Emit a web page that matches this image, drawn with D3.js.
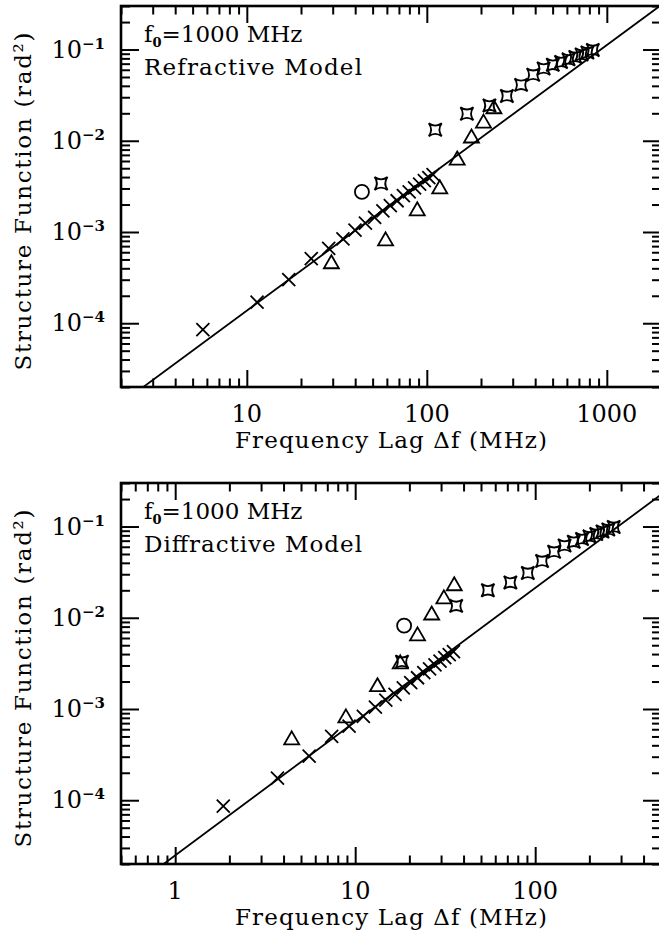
<!DOCTYPE html>
<html>
<head>
<meta charset="utf-8">
<script src="https://cdn.jsdelivr.net/npm/d3@7"></script>
<style>
  body { margin: 0; background: #fff; }
  text { font-family: "DejaVu Serif", "Liberation Serif", serif; fill: #000; }
</style>
</head>
<body>
<div id="chart"></div>
<script>
// ---- data (frequency lag in MHz, structure function in rad^2) ----
const topCrossF = [5.7, 11.4, 17.1, 22.8, 28.5, 34.2, 39.9, 45.6, 51.3, 57.0, 62.7, 68.4, 74.1, 79.8, 85.5, 91.2, 96.9, 102.6, 108.3];
const topCrossD = [8.5e-5, 1.7e-4, 3.0e-4, 5.1e-4, 6.6e-4, 8.4e-4, 1.05e-3, 1.25e-3, 1.45e-3, 1.7e-3, 1.95e-3, 2.2e-3, 2.5e-3, 2.75e-3, 3.05e-3, 3.35e-3, 3.65e-3, 3.95e-3, 4.25e-3];
const topTriF = [29.5, 59, 88.5, 118, 147.5, 177, 206.5, 236];
const topTriD = [4.6e-4, 8.2e-4, 1.75e-3, 3.05e-3, 6.3e-3, 1.1e-2, 1.6e-2, 2.3e-2];
const topStarF = [55.7, 111.4, 167, 222.8, 278.5, 334, 390, 445.6, 501, 557, 613, 668, 724, 780, 836];
const topStarD = [3.4e-3, 1.32e-2, 1.98e-2, 2.43e-2, 3.1e-2, 4.1e-2, 5.3e-2, 6.2e-2, 6.8e-2, 7.3e-2, 7.8e-2, 8.3e-2, 8.8e-2, 9.3e-2, 9.9e-2];
const topCircleF = [43.6];
const topCircleD = [2.75e-3];
const topLineF = [2, 2000];
const topLineD = [1.32e-5, 0.307];

const botCrossF = [1.85, 3.7, 5.55, 7.4, 9.25, 11.1, 12.95, 14.8, 16.65, 18.5, 20.35, 22.2, 24.05, 25.9, 27.75, 29.6, 31.45, 33.3, 35.15];
const botCrossD = [8.6e-5, 1.75e-4, 3.05e-4, 5.0e-4, 6.5e-4, 8.3e-4, 1.05e-3, 1.25e-3, 1.45e-3, 1.7e-3, 1.95e-3, 2.2e-3, 2.5e-3, 2.75e-3, 3.05e-3, 3.35e-3, 3.65e-3, 3.95e-3, 4.25e-3];
const botTriF = [4.44, 8.88, 13.3, 17.8, 22.2, 26.6, 31.1, 35.5];
const botTriD = [4.7e-4, 8.2e-4, 1.8e-3, 3.2e-3, 6.5e-3, 1.1e-2, 1.65e-2, 2.3e-2];
const botStarF = [18.2, 36.4, 54.6, 72.8, 91, 109.2, 127.4, 145.6, 163.8, 182, 200.2, 218.4, 236.6, 254.8, 273];
const botStarD = [3.3e-3, 1.35e-2, 2.0e-2, 2.43e-2, 3.1e-2, 4.2e-2, 5.3e-2, 6.2e-2, 6.8e-2, 7.3e-2, 7.8e-2, 8.3e-2, 8.8e-2, 9.3e-2, 9.9e-2];
const botCircleF = [18.7];
const botCircleD = [8.2e-3];
const botLineF = [0.5, 500];
const botLineD = [9.0e-6, 0.224];

const xTickLabelsTop = [10, 100, 1000];
const xTickLabelsBot = [1, 10, 100];
const yTickExps = [-1, -2, -3, -4];

const W = 659, H = 943;
const left = 121, plotW = 540, plotH = 381;

const svg = d3.select("#chart").append("svg")
    .attr("width", W).attr("height", H)
    .attr("viewBox", [0, 0, W, H]);

const zip = (a, b) => a.map((v, i) => [v, b[i]]);

function starPath(s) {
    const c = s * 0.28;
    return `M${-s},${-s} Q0,${-c} ${s},${-s} Q${c},0 ${s},${s} Q0,${c} ${-s},${s} Q${-c},0 ${-s},${-s}Z`;
}

function createPanel(id, top, xDomain, xLabels, note, d) {
    const g = svg.append("g").attr("transform", `translate(0,${top})`);
    const x = d3.scaleLog().domain(xDomain).range([left, left + plotW]);
    const y = d3.scaleLog().domain([2e-5, 0.3]).range([plotH, 0]);

    const xt = x.ticks().filter(v => v >= xDomain[0] && v <= xDomain[1]);
    const yt = y.ticks().filter(v => v >= 2e-5 && v <= 0.3);
    const isMajor = v => Math.abs(Math.log10(v) - Math.round(Math.log10(v))) < 1e-6;
    const xMaj = xt.filter(isMajor), xMin = xt.filter(v => !isMajor(v));
    const yMaj = yt.filter(isMajor), yMin = yt.filter(v => !isMajor(v));

    const axes = [
        [d3.axisBottom, `translate(0,${plotH})`, x, 17, 8.5],
        [d3.axisTop, "translate(0,0)", x, 17, 8.5],
        [d3.axisLeft, `translate(${left},0)`, y, 18, 9],
        [d3.axisRight, `translate(${left + plotW},0)`, y, 18, 9]
    ];
    axes.forEach(([fn, tr, sc, big, small]) => {
        const vert = fn === d3.axisLeft || fn === d3.axisRight;
        const maj = vert ? yMaj : xMaj, min = vert ? yMin : xMin;
        [[maj, big], [min, small]].forEach(([vals, len]) => {
            const a = g.append("g").attr("transform", tr)
                .call(fn(sc).tickValues(vals).tickSize(-len).tickFormat(""));
            a.select(".domain").remove();
            a.selectAll("line").attr("stroke", "#000").attr("stroke-width", 2);
        });
    });

    g.append("rect")
        .attr("x", left).attr("y", 0).attr("width", plotW).attr("height", plotH)
        .attr("fill", "none").attr("stroke", "#000").attr("stroke-width", 2.6);

    // tick labels
    g.selectAll(".xl").data(xLabels).join("text")
        .attr("x", v => x(v)).attr("y", plotH + 35)
        .attr("text-anchor", "middle").attr("font-size", 24)
        .text(v => v);
    const yl = g.selectAll(".yl").data(yTickExps).join("text")
        .attr("x", left - 16).attr("y", v => y(Math.pow(10, v)) + 8)
        .attr("text-anchor", "end").attr("font-size", 24);
    yl.append("tspan").text("10");
    yl.append("tspan").attr("font-size", 15).attr("font-weight", "bold").attr("dy", -9).text(v => "\u2212" + (-v));

    // axis titles
    g.append("text")
        .attr("x", left + plotW / 2).attr("y", plotH + 61)
        .attr("text-anchor", "middle").attr("font-size", 23)
        .attr("textLength", 312).attr("lengthAdjust", "spacing")
        .text("Frequency Lag \u0394f (MHz)");
    g.append("text")
        .attr("transform", `translate(31,${plotH / 2 + 5}) rotate(-90)`)
        .attr("text-anchor", "middle").attr("font-size", 23)
        .attr("textLength", 338).attr("lengthAdjust", "spacing")
        .text("Structure Function (rad\u00b2)");

    // annotations
    const f0 = g.append("text").attr("x", 144).attr("y", 36).attr("font-size", 23);
    f0.append("tspan").text("f");
    f0.append("tspan").attr("font-size", 13).attr("font-weight", "bold").attr("dy", 5).text("0");
    f0.append("tspan").attr("dy", -5).text("=1000 MHz");
    g.append("text").attr("x", 144).attr("y", 69).attr("font-size", 23)
        .attr("textLength", 218).attr("lengthAdjust", "spacing")
        .text(note);

    // model line
    g.append("clipPath").attr("id", id + "-clip").append("rect")
        .attr("x", left).attr("y", 0).attr("width", plotW).attr("height", plotH);
    g.append("path")
        .datum(zip(d.lineF, d.lineD))
        .attr("clip-path", `url(#${id}-clip)`)
        .attr("fill", "none").attr("stroke", "#000").attr("stroke-width", 1.8)
        .attr("d", d3.line().x(p => x(p[0])).y(p => y(p[1])));

    const marks = g.append("g").attr("fill", "none").attr("stroke", "#000").attr("stroke-width", 1.8);

    marks.selectAll(".cross").data(zip(d.crossF, d.crossD)).join("path")
        .attr("transform", p => `translate(${x(p[0])},${y(p[1])})`)
        .attr("d", "M-6.5,-6.5L6.5,6.5M-6.5,6.5L6.5,-6.5");

    marks.selectAll(".star").data(zip(d.starF, d.starD)).join("path")
        .attr("transform", p => `translate(${x(p[0])},${y(p[1])})`)
        .attr("d", starPath(6.5));

    marks.selectAll(".tri").data(zip(d.triF, d.triD)).join("path")
        .attr("transform", p => `translate(${x(p[0])},${y(p[1])})`)
        .attr("d", "M0,-7.5L7.5,5.5L-7.5,5.5Z");

    marks.selectAll(".circ").data(zip(d.circF, d.circD)).join("circle")
        .attr("cx", p => x(p[0])).attr("cy", p => y(p[1])).attr("r", 7);
}

createPanel("top", 6, [2, 2000], xTickLabelsTop, "Refractive Model", {
    crossF: topCrossF, crossD: topCrossD, triF: topTriF, triD: topTriD,
    starF: topStarF, starD: topStarD, circF: topCircleF, circD: topCircleD,
    lineF: topLineF, lineD: topLineD
});
createPanel("bot", 483, [0.5, 500], xTickLabelsBot, "Diffractive Model", {
    crossF: botCrossF, crossD: botCrossD, triF: botTriF, triD: botTriD,
    starF: botStarF, starD: botStarD, circF: botCircleF, circD: botCircleD,
    lineF: botLineF, lineD: botLineD
});
</script>
</body>
</html>
